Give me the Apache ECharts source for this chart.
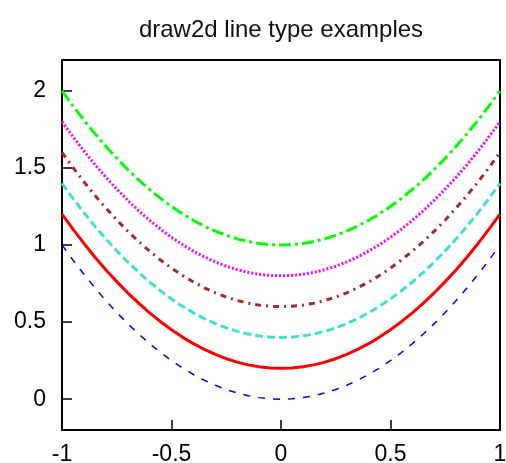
<!DOCTYPE html>
<html><head><meta charset="utf-8">
<script src="https://cdn.jsdelivr.net/npm/echarts@6/dist/echarts.min.js"></script>
<style>html,body{margin:0;padding:0;background:#fff}#c{width:506px;height:463px}</style>
</head><body><div id="c"></div>
<script>
const xs = [-1,-0.95,-0.9,-0.85,-0.8,-0.75,-0.7,-0.65,-0.6,-0.55,-0.5,-0.45,-0.4,-0.35,-0.3,-0.25,-0.2,-0.15,-0.1,-0.05,0,0.05,0.1,0.15,0.2,0.25,0.3,0.35,0.4,0.45,0.5,0.55,0.6,0.65,0.7,0.75,0.8,0.85,0.9,0.95,1];
const yBlue = [1,0.9025,0.81,0.7225,0.64,0.5625,0.49,0.4225,0.36,0.3025,0.25,0.2025,0.16,0.1225,0.09,0.0625,0.04,0.0225,0.01,0.0025,0,0.0025,0.01,0.0225,0.04,0.0625,0.09,0.1225,0.16,0.2025,0.25,0.3025,0.36,0.4225,0.49,0.5625,0.64,0.7225,0.81,0.9025,1];
const yRed = [1.2,1.1025,1.01,0.9225,0.84,0.7625,0.69,0.6225,0.56,0.5025,0.45,0.4025,0.36,0.3225,0.29,0.2625,0.24,0.2225,0.21,0.2025,0.2,0.2025,0.21,0.2225,0.24,0.2625,0.29,0.3225,0.36,0.4025,0.45,0.5025,0.56,0.6225,0.69,0.7625,0.84,0.9225,1.01,1.1025,1.2];
const yTurq = [1.4,1.3025,1.21,1.1225,1.04,0.9625,0.89,0.8225,0.76,0.7025,0.65,0.6025,0.56,0.5225,0.49,0.4625,0.44,0.4225,0.41,0.4025,0.4,0.4025,0.41,0.4225,0.44,0.4625,0.49,0.5225,0.56,0.6025,0.65,0.7025,0.76,0.8225,0.89,0.9625,1.04,1.1225,1.21,1.3025,1.4];
const yBrown = [1.6,1.5025,1.41,1.3225,1.24,1.1625,1.09,1.0225,0.96,0.9025,0.85,0.8025,0.76,0.7225,0.69,0.6625,0.64,0.6225,0.61,0.6025,0.6,0.6025,0.61,0.6225,0.64,0.6625,0.69,0.7225,0.76,0.8025,0.85,0.9025,0.96,1.0225,1.09,1.1625,1.24,1.3225,1.41,1.5025,1.6];
const yMagenta = [1.8,1.7025,1.61,1.5225,1.44,1.3625,1.29,1.2225,1.16,1.1025,1.05,1.0025,0.96,0.9225,0.89,0.8625,0.84,0.8225,0.81,0.8025,0.8,0.8025,0.81,0.8225,0.84,0.8625,0.89,0.9225,0.96,1.0025,1.05,1.1025,1.16,1.2225,1.29,1.3625,1.44,1.5225,1.61,1.7025,1.8];
const yGreen = [2,1.9025,1.81,1.7225,1.64,1.5625,1.49,1.4225,1.36,1.3025,1.25,1.2025,1.16,1.1225,1.09,1.0625,1.04,1.0225,1.01,1.0025,1,1.0025,1.01,1.0225,1.04,1.0625,1.09,1.1225,1.16,1.2025,1.25,1.3025,1.36,1.4225,1.49,1.5625,1.64,1.7225,1.81,1.9025,2];
const yTicks = [0,0.5,1,1.5,2];
const xTicks = [-1,-0.5,0,0.5,1];
const titleText = 'draw2d line type examples';

const font = 'Liberation Sans';
function pairs(ys){ return xs.map((x,i)=>[x,ys[i]]); }
function line(ys,color,width,type){
  return {type:'line',data:pairs(ys),showSymbol:false,symbol:'none',silent:true,
    lineStyle:{color:color,width:width,type:type,cap:'butt'}};
}
const chart = echarts.init(document.getElementById('c'),null,{renderer:'canvas'});
chart.setOption({
  animation:false,
  backgroundColor:'#fff',
  title:{text:titleText,left:276,textAlign:'center',top:13,
    textStyle:{fontFamily:font,fontSize:24,fontWeight:'normal',color:'#111'}},
  grid:{left:62,right:6,top:60,bottom:33,show:true,borderColor:'#000',borderWidth:2,backgroundColor:'transparent',
    containLabel:false,outerBoundsMode:'none'},
  xAxis:{type:'value',min:-1,max:1,interval:0.5,
    axisLine:{show:true,onZero:false,lineStyle:{color:'#000',width:2}},
    axisTick:{show:true,inside:true,length:10,lineStyle:{color:'#000',width:1.5},customValues:xTicks},
    axisLabel:{color:'#000',fontFamily:font,fontSize:23,margin:13,customValues:xTicks,
      formatter:v=>String(v)},
    splitLine:{show:false}},
  yAxis:{type:'value',min:-0.2,max:2.2,
    axisLine:{show:true,onZero:false,lineStyle:{color:'#000',width:2}},
    axisTick:{show:true,inside:true,length:10,lineStyle:{color:'#000',width:1.5},customValues:yTicks},
    axisLabel:{color:'#000',fontFamily:font,fontSize:23,margin:16,customValues:yTicks,
      formatter:v=>String(v)},
    splitLine:{show:false}},
  series:[
    line(yBlue,'#0000ff',1.5,[7,8]),
    line(yRed,'#ff0000',3,'solid'),
    line(yTurq,'#40e0d0',3,[8,4]),
    line(yBrown,'#a52a2a',3,[6,5,2,5]),
    line(yMagenta,'#ff00ff',3,[2,2]),
    line(yGreen,'#00ff00',3,[12,4,3,4])
  ]
});
</script></body></html>
